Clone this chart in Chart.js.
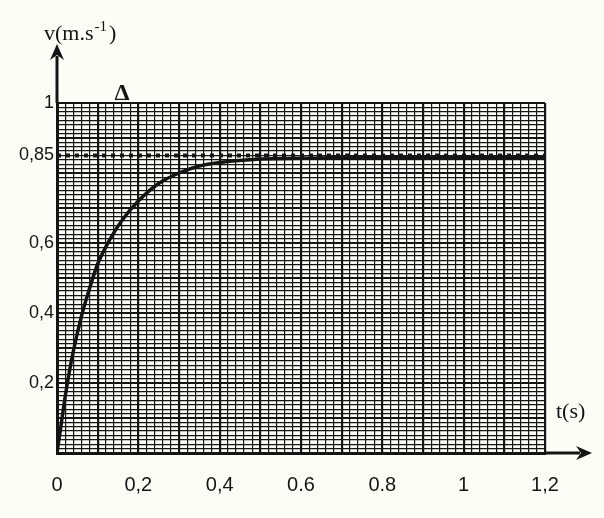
<!DOCTYPE html>
<html>
<head>
<meta charset="utf-8">
<script src="https://cdn.jsdelivr.net/npm/chart.js@4/dist/chart.umd.min.js"></script>
<style>
  html, body { margin: 0; background: #fdfdf8; }
  #wrap { width: 604px; height: 518px; }
</style>
</head>
<body>
<div id="wrap"><canvas id="speed-chart"></canvas></div>
<script>
// Speed of the body against time
const times  = [0, 0.01, 0.02, 0.03, 0.04, 0.06, 0.08, 0.10, 0.13, 0.16, 0.20, 0.25, 0.30, 0.35, 0.40, 0.50, 0.60, 0.80, 1.00, 1.20];
const speeds = [0, 0.08, 0.16, 0.23, 0.29, 0.39, 0.47, 0.54, 0.61, 0.665, 0.72, 0.77, 0.80, 0.82, 0.83, 0.84, 0.842, 0.845, 0.845, 0.845];

// asymptote (dotted line)
const limitSpeed = 0.85;
const limitTimes = [0, 1.2];

const xTickValues = [0, 0.2, 0.4, 0.6, 0.8, 1, 1.2];
const xTickText   = ['0', '0,2', '0,4', '0.6', '0.8', '1', '1,2'];
const yTickValues = [0.2, 0.4, 0.6, 0.85, 1];
const yTickText   = ['0,2', '0,4', '0,6', '0,85', '1'];

function labelFor(values, texts, v) {
  const i = values.findIndex(t => Math.abs(t - v) < 1e-6);
  return i < 0 ? '' : texts[i];
}
function onStep(v, step) {
  const k = v / step;
  return Math.abs(k - Math.round(k)) < 1e-6;
}

const ink = '#141414';

// arrows on the axes, axis names and the Δ mark
const axisDecor = {
  id: 'axisDecor',
  afterDraw(chart) {
    const { ctx, chartArea: a } = chart;
    ctx.save();
    ctx.strokeStyle = ink;
    ctx.fillStyle = ink;
    ctx.lineWidth = 3;

    ctx.beginPath();
    ctx.moveTo(a.left, a.top);
    ctx.lineTo(a.left, 56);
    ctx.stroke();
    ctx.beginPath();
    ctx.moveTo(a.left, 44);
    ctx.lineTo(a.left - 7, 60);
    ctx.lineTo(a.left, 55);
    ctx.lineTo(a.left + 7, 60);
    ctx.closePath();
    ctx.fill();

    ctx.beginPath();
    ctx.moveTo(a.right, a.bottom);
    ctx.lineTo(580, a.bottom);
    ctx.stroke();
    ctx.beginPath();
    ctx.moveTo(592, a.bottom);
    ctx.lineTo(576, a.bottom - 7);
    ctx.lineTo(581, a.bottom);
    ctx.lineTo(576, a.bottom + 7);
    ctx.closePath();
    ctx.fill();

    // v(m.s^-1) with a raised exponent
    ctx.textBaseline = 'alphabetic';
    ctx.textAlign = 'left';
    let x = 44;
    ctx.font = '22px "Liberation Serif"';
    ctx.fillText('v(m.s', x, 40);
    x += ctx.measureText('v(m.s').width + 1;
    ctx.font = '15px "Liberation Serif"';
    ctx.fillText('-1', x, 31);
    x += ctx.measureText('-1').width + 2;
    ctx.font = '22px "Liberation Serif"';
    ctx.fillText(')', x, 40);

    ctx.fillText('t(s)', 556, 418);

    ctx.font = 'bold 24px "Liberation Serif"';
    ctx.textAlign = 'center';
    ctx.fillText('Δ', 122, 100);
    ctx.restore();
  }
};

new Chart(document.getElementById('speed-chart'), {
  type: 'line',
  data: {
    datasets: [
      {
        label: 'v(t)',
        data: times.map((t, i) => ({ x: t, y: speeds[i] })),
        borderColor: ink,
        borderWidth: 3.5,
        pointRadius: 0,
        cubicInterpolationMode: 'monotone'
      },
      {
        label: 'limite',
        data: limitTimes.map(t => ({ x: t, y: limitSpeed })),
        borderColor: ink,
        borderWidth: 4,
        borderDash: [4, 5],
        pointRadius: 0
      }
    ]
  },
  options: {
    responsive: true,
    maintainAspectRatio: false,
    animation: false,
    layout: { padding: { top: 103, right: 59, left: 0, bottom: 0 } },
    plugins: {
      legend: { display: false },
      tooltip: { enabled: false }
    },
    scales: {
      x: {
        type: 'linear',
        min: 0,
        max: 1.2,
        afterFit(scale) { scale.height = 65; },
        border: { color: ink, width: 3 },
        grid: {
          drawTicks: false,
          color: ink,
          lineWidth: c => (c.tick && onStep(c.tick.value, 0.1) ? 2.2 : 1.2)
        },
        ticks: {
          stepSize: 0.02,
          autoSkip: false,
          maxRotation: 0,
          padding: 20,
          color: ink,
          font: { family: 'Liberation Sans', size: 20 },
          callback: v => labelFor(xTickValues, xTickText, v)
        }
      },
      y: {
        min: 0,
        max: 1,
        afterFit(scale) { scale.width = 57; },
        border: { color: ink, width: 3 },
        grid: {
          drawTicks: false,
          color: ink,
          lineWidth: c => (c.tick && onStep(c.tick.value, 0.1) ? 2 : 1.3)
        },
        ticks: {
          stepSize: 0.0125,
          autoSkip: false,
          padding: 3,
          color: ink,
          font: { family: 'Liberation Sans Narrow, Liberation Sans', size: 18 },
          callback: v => labelFor(yTickValues, yTickText, v)
        }
      }
    }
  },
  plugins: [axisDecor]
});
</script>
</body>
</html>
